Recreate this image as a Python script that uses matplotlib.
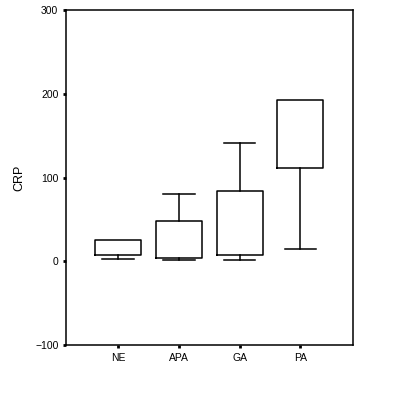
import matplotlib
matplotlib.use('Agg')
from matplotlib import pyplot as plt

plt.rcParams['font.family'] = ['Liberation Sans', 'DejaVu Sans']

groups = ['NE', 'APA', 'GA', 'PA']
q1 = [7, 4.5, 8, 112]
med = [7, 4.5, 8, 112]
q3 = [26, 48.5, 83.5, 192.5]
whislo = [3, 2, 2, 15]
whishi = [26, 81, 142, 192.5]

stats = []
for i, g in enumerate(groups):
    stats.append({'label': g, 'q1': q1[i], 'med': med[i], 'q3': q3[i],
                  'whislo': whislo[i], 'whishi': whishi[i], 'fliers': []})

fig = plt.figure(figsize=(4.16, 4.16), dpi=100)
ax = fig.add_axes([0.1587, 0.1707, 0.6887, 0.8045])

lw = 1.1
res = ax.bxp(stats, positions=[1, 2, 3, 4], widths=0.76, showfliers=False,
             boxprops=dict(color='k', linewidth=lw),
             medianprops=dict(color='k', linewidth=lw),
             whiskerprops=dict(color='k', linewidth=lw),
             capprops=dict(color='k', linewidth=lw),
             capwidths=0.52)

# no upper whisker when max equals Q3, no median line drawn over the box edge
for i in range(len(groups)):
    if whishi[i] == q3[i]:
        res['caps'][2 * i + 1].set_visible(False)
    res['medians'][i].set_visible(False)

ax.set_xlim(0.14, 4.86)
ax.set_ylim(-100, 300)
ax.set_yticks([-100, 0, 100, 200, 300])
ax.set_xticks([1, 2, 3, 4])
ax.set_xticklabels(groups)
ax.tick_params(direction='out', length=2.5, width=2, labelsize=7.5, pad=3)
ax.set_ylabel('CRP', fontsize=9, labelpad=7)
for s in ax.spines.values():
    s.set_linewidth(1.1)

plt.savefig('out.png', dpi=100)
